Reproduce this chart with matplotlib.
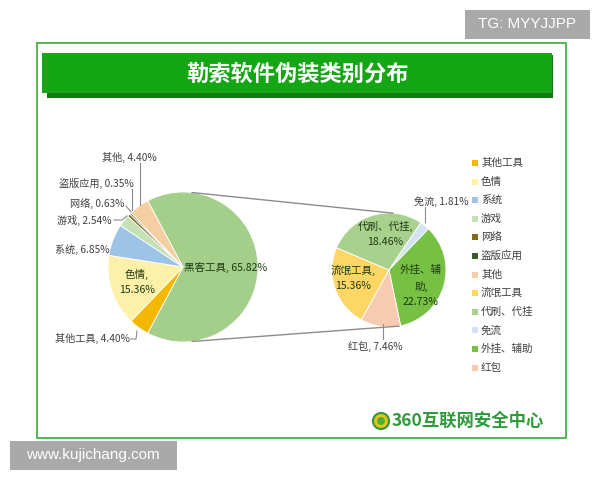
import numpy as np
import matplotlib
matplotlib.use("Agg")
import matplotlib.pyplot as plt
from matplotlib.patches import Rectangle, Circle

plt.rcParams['font.family'] = ['Noto Sans CJK SC', 'DejaVu Sans']

# ---------------- data ----------------
title = "勒索软件伪装类别分布"
main_labels = ["黑客工具", "其他工具", "色情", "系统", "游戏", "网络", "盗版应用", "其他"]
main_values = [65.82, 4.40, 15.36, 6.85, 2.54, 0.63, 0.35, 4.40]
main_colors = ["#a3cf8a", "#f5b800", "#fdf0a8", "#9dc3e6", "#c5e0b4", "#7f6a1e", "#3a5a2a", "#f4cfa2"]

sub_labels = ["流氓工具", "代刷、代挂", "免流", "外挂、辅助", "红包"]
sub_values = [15.36, 18.46, 1.81, 22.73, 7.46]
sub_colors = ["#fdd663", "#a9d18e", "#d3e3f1", "#76c043", "#f8cbb0"]

legend_labels = ["其他工具", "色情", "系统", "游戏", "网络", "盗版应用", "其他",
                 "流氓工具", "代刷、代挂", "免流", "外挂、辅助", "红包"]
legend_colors = main_colors[1:] + sub_colors

W, H = 600, 480
def Y(py):
    return H - py

fig = plt.figure(figsize=(6, 4.8), dpi=100)
ax = fig.add_axes([0, 0, 1, 1])

# ---------------- pies ----------------
c1 = (183, 267); r1 = 75
c2 = (389, 270); r2 = 57
tot1 = sum(main_values)
start1 = 360 * main_values[0] / tot1 / 2
w1, _ = ax.pie(main_values, colors=main_colors, startangle=start1, counterclock=False,
               center=(c1[0], Y(c1[1])), radius=r1,
               wedgeprops=dict(edgecolor="white", linewidth=0.6))
w2, _ = ax.pie(sub_values, colors=sub_colors, startangle=-119, counterclock=False,
               center=(c2[0], Y(c2[1])), radius=r2,
               wedgeprops=dict(edgecolor="white", linewidth=0.6))

ax.set_xlim(0, W)
ax.set_ylim(0, H)
ax.set_aspect("equal")
ax.axis("off")

def edge_pt(center, r, ang):
    a = np.deg2rad(ang)
    return center[0] + r * np.cos(a), Y(center[1]) + r * np.sin(a)

# connector lines between pies
for a1, a2 in [(83, 86), (-83, -80)]:
    p1 = edge_pt(c1, r1, a1)
    p2 = edge_pt(c2, r2, a2)
    ax.plot([p1[0], p2[0]], [p1[1], p2[1]], color="#8c8c8c", lw=1.0, zorder=3)

# ---------------- frame & title ----------------
ax.add_patch(Rectangle((37, Y(438)), 529, 395, fill=False, edgecolor="#46b046", lw=1.3, zorder=0))
ax.add_patch(Rectangle((47, Y(98)), 506, 43, facecolor="#137a13", edgecolor="none", zorder=1))
ax.add_patch(Rectangle((42, Y(93)), 510, 40, facecolor="#14a614", edgecolor="none", zorder=1))
ax.text(298, Y(74), title, color="white", fontsize=16, fontweight="bold",
        ha="center", va="center", zorder=2)

lbl_kw = dict(fontsize=7.3, color="#404040", va="center", zorder=5)
in_kw = dict(fontsize=7.6, color="#1f3a12", va="center", ha="center", zorder=5, linespacing=1.6)

# inside labels (main)
ax.text(226, Y(268), f"{main_labels[0]}, {main_values[0]:.2f}%", **in_kw)
ax.text(137, Y(282), f"{main_labels[2]},\n{main_values[2]:.2f}%", **in_kw)

# outside labels (main) with leader lines
ax.text(110, Y(250), f"{main_labels[3]}, {main_values[3]:.2f}%", ha="right", **lbl_kw)
ax.text(112, Y(220), f"{main_labels[4]}, {main_values[4]:.2f}%", ha="right", **lbl_kw)
ax.plot([114, 122, 127], [Y(220), Y(220), Y(216)], color="#8c8c8c", lw=0.8, zorder=4)
ax.text(125, Y(204), f"{main_labels[5]}, {main_values[5]:.2f}%", ha="right", **lbl_kw)
ax.plot([126, 131], [Y(206), Y(212)], color="#8c8c8c", lw=0.8, zorder=4)
ax.text(134, Y(183), f"{main_labels[6]}, {main_values[6]:.2f}%", ha="right", **lbl_kw)
ax.plot([132, 132], [Y(189), Y(210)], color="#8c8c8c", lw=0.8, zorder=4)
ax.text(157, Y(157), f"{main_labels[7]}, {main_values[7]:.2f}%", ha="right", **lbl_kw)
ax.plot([140, 140], [Y(163), Y(205)], color="#8c8c8c", lw=0.8, zorder=4)
ax.text(130, Y(338), f"{main_labels[1]}, {main_values[1]:.2f}%", ha="right", **lbl_kw)
ax.plot([131, 136, 137], [Y(339), Y(339), Y(331)], color="#8c8c8c", lw=0.8, zorder=4)

# sub pie labels
ax.text(385, Y(234), f"{sub_labels[1]},\n{sub_values[1]:.2f}%", **in_kw)
ax.text(353, Y(278), f"{sub_labels[0]},\n{sub_values[0]:.2f}%", **in_kw)
ax.text(421, Y(286), f"外挂、辅\n助,\n{sub_values[3]:.2f}%", **in_kw)
ax.text(441, Y(202), f"{sub_labels[2]}, {sub_values[2]:.2f}%", ha="center", **lbl_kw)
ax.plot([425, 425], [Y(207), Y(222)], color="#8c8c8c", lw=0.8, zorder=4)
ax.text(375, Y(347), f"{sub_labels[4]}, {sub_values[4]:.2f}%", ha="center", **lbl_kw)
ax.plot([383, 383], [Y(324), Y(339)], color="#8c8c8c", lw=0.8, zorder=4)

# ---------------- legend ----------------
for i, (lab, col) in enumerate(zip(legend_labels, legend_colors)):
    yy = 163 + i * 18.6
    ax.add_patch(Rectangle((472, Y(yy) - 3), 6, 6, facecolor=col, edgecolor="none", zorder=5))
    ax.text(481, Y(yy), lab, fontsize=7.6, color="#404040", va="center", ha="left", zorder=5)

# ---------------- logo ----------------
ax.add_patch(Circle((381, Y(421)), 8, facecolor="#e9c21a", edgecolor="#3a9a3a", lw=1.6, zorder=5))
ax.add_patch(Circle((381, Y(421)), 4, facecolor="#4caf3a", edgecolor="none", zorder=6))
ax.text(392, Y(421), "360互联网安全中心", fontsize=12.5, fontweight="bold", color="#2e9a3a",
        ha="left", va="center", zorder=5)

# ---------------- watermarks ----------------
ax.add_patch(Rectangle((465, Y(39)), 125, 29, facecolor="#a9a9a9", edgecolor="none", zorder=7))
ax.text(527, Y(24.5), "TG: MYYJJPP", fontsize=11, color="white", ha="center", va="center",
        family="Liberation Sans", zorder=8)
ax.add_patch(Rectangle((10, Y(470)), 167, 29, facecolor="#a9a9a9", edgecolor="none", zorder=7))
ax.text(93, Y(455.5), "www.kujichang.com", fontsize=11, color="white", ha="center", va="center",
        family="Liberation Sans", zorder=8)

fig.savefig("out.png", dpi=100)
